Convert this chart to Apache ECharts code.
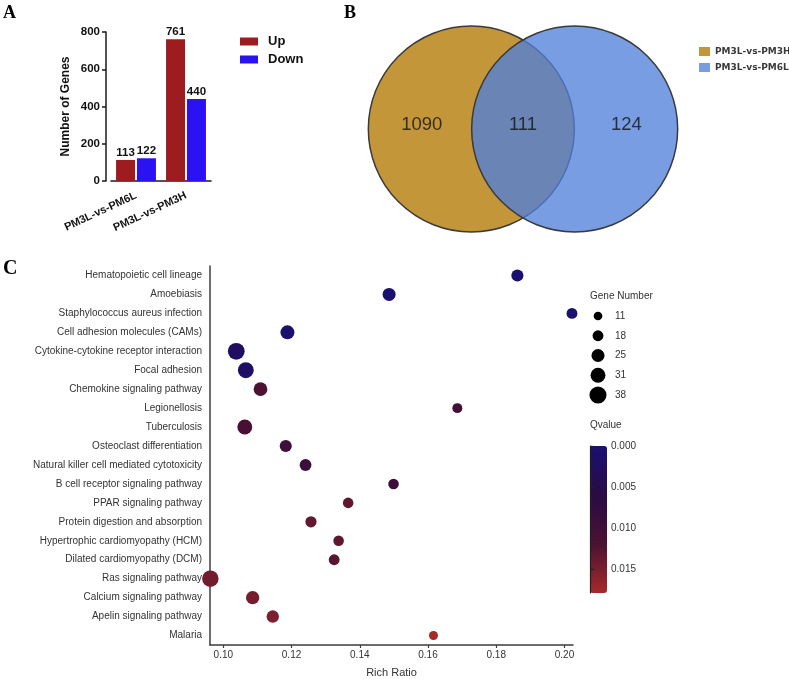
<!DOCTYPE html>
<html><head><meta charset="utf-8">
<script src="https://cdn.jsdelivr.net/npm/echarts@6/dist/echarts.min.js"></script>
<style>html,body{margin:0;padding:0;background:#fff}#c{width:789px;height:679px}</style>
</head><body><div id="c"></div>
<script>
// ---------- Panel A data ----------
const groupCategories = ['PM3L-vs-PM6L', 'PM3L-vs-PM3H'];
const upCounts = [113, 761];
const downCounts = [122, 440];
const countRange = [0, 800];

// ---------- Panel B data ----------
const vennSets = ['PM3L-vs-PM3H', 'PM3L-vs-PM6L'];
const vennRegionCounts = [1090, 111, 124]; // only set1, shared, only set2

// ---------- Panel C data ----------
const pathways = [
  'Hematopoietic cell lineage', 'Amoebiasis', 'Staphylococcus aureus infection',
  'Cell adhesion molecules (CAMs)', 'Cytokine-cytokine receptor interaction',
  'Focal adhesion', 'Chemokine signaling pathway', 'Legionellosis', 'Tuberculosis',
  'Osteoclast differentiation', 'Natural killer cell mediated cytotoxicity',
  'B cell receptor signaling pathway', 'PPAR signaling pathway',
  'Protein digestion and absorption', 'Hypertrophic cardiomyopathy (HCM)',
  'Dilated cardiomyopathy (DCM)', 'Ras signaling pathway', 'Calcium signaling pathway',
  'Apelin signaling pathway', 'Malaria'
];
const richRatio = [0.1862, 0.1486, 0.2022, 0.1188, 0.1038, 0.1066, 0.1109, 0.1686, 0.1063,
  0.1183, 0.1241, 0.1499, 0.1366, 0.1257, 0.1338, 0.1325, 0.0962, 0.1086, 0.1145, 0.1616];
const geneNumber = [22, 25, 18, 28, 37, 34, 27, 15, 31, 22, 21, 17, 17, 19, 17, 18, 36, 26, 23, 12];
const qValue = [0.0000, 0.0000, 0.0000, 0.0005, 0.0020, 0.0015, 0.0120, 0.0105, 0.0115,
  0.0095, 0.0090, 0.0095, 0.0133, 0.0135, 0.0133, 0.0130, 0.0145, 0.0148, 0.0152, 0.0179];
const richTicks = [0.10, 0.12, 0.14, 0.16, 0.18, 0.20];
const richRange = [0.0961, 0.2025];
const sizeLegendTicks = [11, 18, 25, 31, 38];
const qTicks = [0.000, 0.005, 0.010, 0.015];
const qRange = [0, 0.0179];

// ---------- helpers ----------
const FONT = '"Liberation Sans", Arial, sans-serif';
const dotSize = n => 5.3 + 0.31 * n;
const dark = '#1a1a1a';
const grey = '#3c3c3c';
const G = o => Object.assign({ outerBoundsMode: 'none', containLabel: false }, o);

const option = {
  animation: false,
  textStyle: { fontFamily: FONT },
  title: [
    { text: 'A', left: 3, top: 4, padding: 0, textStyle: { fontFamily: '"Liberation Serif", serif', fontWeight: 'bold', fontSize: 18, color: '#000' } },
    { text: 'B', left: 344, top: 4, padding: 0, textStyle: { fontFamily: '"Liberation Serif", serif', fontWeight: 'bold', fontSize: 18, color: '#000' } },
    { text: 'C', left: 3, top: 259, padding: 0, textStyle: { fontFamily: '"Liberation Serif", serif', fontWeight: 'bold', fontSize: 20, color: '#000' } },
    { text: 'Gene Number', left: 590, top: 291, padding: 0, textStyle: { fontFamily: FONT, fontWeight: 'normal', fontSize: 10, color: '#333' } },
    { text: 'Qvalue', left: 590, top: 420, padding: 0, textStyle: { fontFamily: FONT, fontWeight: 'normal', fontSize: 10, color: '#333' } }
  ],
  legend: [
    { data: ['Up', 'Down'], orient: 'vertical', left: 240, top: 35, padding: 0, itemWidth: 18, itemHeight: 8, itemGap: 5, icon: 'rect',
      textStyle: { fontFamily: FONT, fontSize: 13, fontWeight: 'bold', color: '#111', padding: [0, 0, 0, 5] }, selectedMode: false },
    { data: vennSets, orient: 'vertical', left: 699, top: 47, padding: 0, itemWidth: 11, itemHeight: 9, itemGap: 7, icon: 'rect',
      textStyle: { fontFamily: '"DejaVu Sans", Verdana, sans-serif', fontSize: 9, fontWeight: 'bold', color: '#3a3a3a' },
      itemStyle: { borderWidth: 0 }, selectedMode: false }
  ],
  grid: [
    G({ left: 111, top: 32, width: 100, height: 149 }),
    G({ left: 368, top: 26, width: 310, height: 206 }),
    G({ left: 210, top: 266, width: 363, height: 379 }),
    G({ left: 590, top: 316, width: 16, height: 79 }),
    G({ left: 590, top: 446, width: 18, height: 147 })
  ],
  xAxis: [
    { type: 'category', gridIndex: 0, data: groupCategories,
      axisLine: { lineStyle: { color: dark, width: 1.5 } },
      axisTick: { alignWithLabel: true, length: 4, lineStyle: { color: dark, width: 1.5 } },
      axisLabel: { rotate: 25, interval: 0, fontSize: 11, fontWeight: 'bold', color: '#111', margin: 14 } },
    { type: 'value', gridIndex: 1, min: 0, max: 3, show: false },
    { type: 'value', gridIndex: 2, min: richRange[0], max: richRange[1],
      axisLine: { show: true, lineStyle: { color: grey, width: 1.5 } },
      axisTick: { show: true, customValues: richTicks, length: 3, lineStyle: { color: grey, width: 1.2 } },
      axisLabel: { customValues: richTicks, formatter: v => v.toFixed(2), fontSize: 10, color: '#333', margin: 5 },
      splitLine: { show: false },
      name: 'Rich Ratio', nameLocation: 'middle', nameGap: 22, nameTextStyle: { fontSize: 11, color: '#333' } },
    { type: 'value', gridIndex: 3, min: -1, max: 1, show: false },
    { type: 'value', gridIndex: 4, min: 0, max: 1, show: false }
  ],
  yAxis: [
    { type: 'value', gridIndex: 0, min: countRange[0], max: countRange[1], interval: 200, offset: 5,
      axisLine: { show: true, lineStyle: { color: dark, width: 1.5 } },
      axisTick: { show: true, length: 4, lineStyle: { color: dark, width: 1.5 } },
      axisLabel: { fontSize: 11.5, fontWeight: 'bold', color: '#111', margin: 6 },
      splitLine: { show: false },
      name: 'Number of Genes', nameLocation: 'middle', nameGap: 34,
      nameTextStyle: { fontSize: 12, fontWeight: 'bold', color: '#111' } },
    { type: 'value', gridIndex: 1, min: -1, max: 1, show: false },
    { type: 'category', gridIndex: 2, data: pathways, inverse: true,
      axisLine: { lineStyle: { color: grey, width: 1.5 } },
      axisTick: { alignWithLabel: true, length: 5, lineStyle: { color: grey, width: 1.2 } },
      axisLabel: { interval: 0, fontSize: 10, color: '#333', margin: 8 } },
    { type: 'category', gridIndex: 3, data: sizeLegendTicks.map(String), inverse: true, boundaryGap: false, position: 'right',
      axisLine: { show: false }, axisTick: { show: false },
      axisLabel: { fontSize: 10, color: '#333', margin: 9 } },
    { type: 'value', gridIndex: 4, min: qRange[0], max: qRange[1], inverse: true, position: 'right', z: 10,
      axisLine: { show: true, lineStyle: { color: '#222', width: 1.2 } },
      axisTick: { show: true, customValues: qTicks, length: 4, lineStyle: { color: '#222', width: 1.2 } },
      axisLabel: { customValues: qTicks, formatter: v => v.toFixed(3), fontSize: 10, color: '#333', margin: 3 },
      splitLine: { show: false } }
  ],
  visualMap: [{
    type: 'continuous', seriesIndex: 5, dimension: 3, min: qRange[0], max: qRange[1],
    inverse: true, orient: 'vertical', left: 590, top: 446, itemWidth: 17, itemHeight: 147,
    padding: 0, calculable: false, hoverLink: false, z: 1,
    inRange: { color: ['#1a1070', '#2a0b45', '#4a1232', '#a52a2a'] }
  }],
  series: [
    { type: 'bar', name: 'Up', xAxisIndex: 0, yAxisIndex: 0, data: upCounts, barWidth: 19, barGap: '10%',
      itemStyle: { color: '#9c1c20' },
      label: { show: true, position: 'top', distance: 1, fontSize: 11.5, fontWeight: 'bold', color: '#111' } },
    { type: 'bar', name: 'Down', xAxisIndex: 0, yAxisIndex: 0, data: downCounts, barWidth: 19,
      itemStyle: { color: '#2a12f2' },
      label: { show: true, position: 'top', distance: 1, fontSize: 11.5, fontWeight: 'bold', color: '#111' } },
    { type: 'scatter', name: vennSets[0], xAxisIndex: 1, yAxisIndex: 1, data: [[1, 0]], symbolSize: 206, silent: true, z: 2,
      itemStyle: { color: '#c4963a', borderColor: '#3a3a3a', borderWidth: 1.5, opacity: 1 } },
    { type: 'scatter', name: vennSets[1], xAxisIndex: 1, yAxisIndex: 1, data: [[2, 0]], symbolSize: 206, silent: true, z: 3,
      itemStyle: { color: 'rgba(80,128,218,0.77)', borderColor: '#3a3a3a', borderWidth: 1.5, opacity: 1 } },
    { type: 'scatter', name: 'vennCounts', xAxisIndex: 1, yAxisIndex: 1, silent: true, z: 5, symbolSize: 1,
      data: vennRegionCounts.map((c, i) => ({ value: [[0.52, 1.5, 2.5][i], 0.04], label: { formatter: String(c) } })),
      itemStyle: { color: 'rgba(0,0,0,0)' },
      label: { show: true, position: 'inside', fontSize: 18.5, color: '#111', fontFamily: FONT } },
    { type: 'scatter', name: 'pathways', xAxisIndex: 2, yAxisIndex: 2, clip: false,
      data: pathways.map((p, i) => [richRatio[i], p, geneNumber[i], qValue[i]]),
      encode: { x: 0, y: 1 }, itemStyle: { opacity: 1 },
      symbolSize: v => dotSize(v[2]) },
    { type: 'scatter', name: 'sizeLegend', xAxisIndex: 3, yAxisIndex: 3, clip: false,
      data: sizeLegendTicks.map(n => [0, String(n), n]),
      encode: { x: 0, y: 1 },
      symbolSize: v => dotSize(v[2]), itemStyle: { color: '#000', opacity: 1 } }
  ]
};
const chart = echarts.init(document.getElementById('c'), null, { renderer: 'canvas' });
chart.setOption(option);
</script></body></html>
